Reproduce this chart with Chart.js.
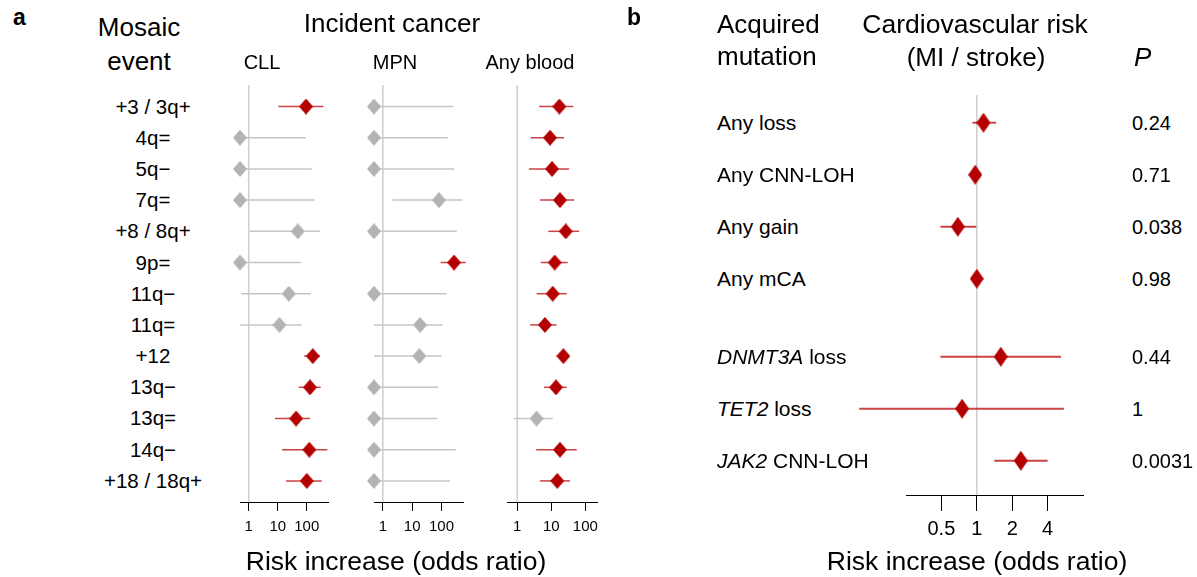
<!DOCTYPE html>
<html><head><meta charset="utf-8">
<script src="https://cdn.jsdelivr.net/npm/chart.js@4.4.1/dist/chart.umd.min.js"></script>
<style>
html,body{margin:0;padding:0;background:#fff;}
#root{position:relative;width:1197px;height:577px;overflow:hidden;background:#fff;font-family:"Liberation Sans",Arial,Helvetica,sans-serif;color:#000;}
#root canvas{position:absolute;top:0;}
.t{position:absolute;white-space:nowrap;line-height:1;}
</style></head><body><div id="root"></div>
<script>
// ---------- DATA ----------
const eventLabels = ['+3 / 3q+','4q=','5q\u2212','7q=','+8 / 8q+','9p=','11q\u2212','11q=','+12','13q\u2212','13q=','14q\u2212','+18 / 18q+'];

const cllEst = [94, 0.5, 0.5, 0.5, 49, 0.5, 24, 11.4, 161, 129, 43, 123, 100];
const cllLo  = [10.5, 0.5, 0.5, 0.5, 1.1, 0.5, 0.54, 0.5, 81, 53, 8, 14, 19.3];
const cllHi  = [372, 94, 148, 188, 287, 63, 140, 67, 287, 303, 129, 510, 330];
const cllSig = [1,0,0,0,0,0,0,0,1,1,1,1,1];

const mpnEst = [0.5, 0.5, 0.5, 82, 0.5, 267, 0.5, 18.6, 17.5, 0.5, 0.5, 0.5, 0.5];
const mpnLo  = [0.5, 0.5, 0.5, 2.1, 0.5, 94, 0.5, 0.5, 0.5, 0.5, 0.5, 0.5, 0.5];
const mpnHi  = [253, 163, 272, 512, 330, 668, 150, 107, 102, 78, 72, 305, 195];
const mpnSig = [0,0,0,0,0,1,0,0,0,0,0,0,0];

const bloodEst = [17.2, 9.2, 10.5, 18, 26.5, 12.6, 11, 6.5, 22.6, 13.7, 3.7, 18, 15];
const bloodLo  = [4.4, 2.5, 2.2, 4.7, 8.2, 4.9, 3.7, 2.4, 20, 6.1, 0.8, 3.6, 4.7];
const bloodHi  = [44, 23.6, 33, 47, 65, 30.4, 28.4, 14.4, 26, 28.4, 11, 56, 35.5];
const bloodSig = [1,1,1,1,1,1,1,1,1,1,0,1,1];

const mutGene  = ['', '', '', '', 'DNMT3A', 'TET2', 'JAK2'];
const mutText  = ['Any loss', 'Any CNN-LOH', 'Any gain', 'Any mCA', ' loss', ' loss', ' CNN-LOH'];
const mutGroup = [0,0,0,0,1,1,1];
const mutEst = [1.14, 0.97, 0.69, 1.0, 1.6, 0.75, 2.37];
const mutLo  = [0.92, 0.9, 0.49, 0.95, 0.49, 0.10, 1.41];
const mutHi  = [1.46, 1.05, 0.99, 1.05, 5.2, 5.5, 4.0];
const mutP   = ['0.24', '0.71', '0.038', '0.98', '0.44', '1', '0.0031'];

const ticksA = [1, 10, 100];
const ticksB = [0.5, 1, 2, 4];

// ---------- STYLE ----------
const FONT = '"Liberation Sans", Arial, Helvetica, sans-serif';
const RED = '#b40000', GRAY = '#b3b3b3';
const RED_LINE = 'rgba(190,20,20,0.8)', GRAY_LINE = '#c6c6c6', REF = '#d0d0d0';
const H = 577;
const root = document.getElementById('root');

function diamond(w, h, color) {
  const c = document.createElement('canvas');
  c.width = w; c.height = h;
  const g = c.getContext('2d');
  g.fillStyle = color;
  g.beginPath();
  g.moveTo(w / 2, 0); g.lineTo(w, h / 2); g.lineTo(w / 2, h); g.lineTo(0, h / 2);
  g.closePath(); g.fill();
  return c;
}
const dRedA = diamond(14, 16, RED), dGrayA = diamond(14, 16, GRAY);
const dRedB = diamond(14, 20, RED);

const refLine = {
  id: 'refLine',
  beforeDatasetsDraw(chart, args, opts) {
    const x = chart.scales.x.getPixelForValue(1);
    const a = chart.chartArea, c = chart.ctx;
    c.save();
    c.strokeStyle = opts.color; c.lineWidth = opts.width;
    c.beginPath(); c.moveTo(x, a.top); c.lineTo(x, a.bottom); c.stroke();
    c.restore();
  }
};

function makePanel(p) {
  const cv = document.createElement('canvas');
  const W = p.right - p.left + p.padL + p.padR;
  cv.width = W; cv.height = H;
  cv.style.left = (p.left - p.padL) + 'px';
  cv.style.width = W + 'px'; cv.style.height = H + 'px';
  root.appendChild(cv);
  const datasets = [];
  datasets.push({
    type: 'scatter',
    data: p.est.map((v, i) => ({ x: v, y: p.ypos[i] })),
    pointStyle: c => (c.dataIndex !== undefined && p.sig[c.dataIndex]) ? p.redD : p.grayD,
    pointRadius: 8, pointHoverRadius: 8, order: 0, clip: false
  });
  p.est.forEach((v, i) => {
    datasets.push({
      type: 'line',
      data: [{ x: p.lo[i], y: p.ypos[i] }, { x: p.hi[i], y: p.ypos[i] }],
      borderColor: p.sig[i] ? RED_LINE : GRAY_LINE,
      borderWidth: p.lineW, pointRadius: 0, pointHoverRadius: 0,
      fill: false, order: 1, clip: false, tension: 0
    });
  });
  return new Chart(cv, {
    type: 'scatter',
    data: { datasets },
    options: {
      responsive: false, animation: false, devicePixelRatio: 1, events: [],
      layout: { padding: { left: p.padL, right: p.padR, top: p.top, bottom: 0 } },
      plugins: { legend: { display: false }, tooltip: { enabled: false },
                 refLine: { color: REF, width: 1.6 } },
      scales: {
        x: {
          type: 'logarithmic', min: p.xmin, max: p.xmax, bounds: 'data', position: 'bottom',
          afterFit: s => { s.height = H - p.bottom; },
          afterBuildTicks: s => { s.ticks = p.ticks.map(v => ({ value: v })); },
          ticks: { autoSkip: false, maxRotation: 0, minRotation: 0, padding: p.tickPad,
                   color: '#000', font: { family: FONT, size: p.tickSize },
                   callback: v => String(v) },
          grid: { display: true, drawOnChartArea: false, drawTicks: true,
                  tickLength: p.tickLen, color: '#000', lineWidth: 1 },
          border: { display: true, color: '#000', width: 1 }
        },
        y: { type: 'linear', min: p.ymin, max: p.ymax, reverse: true, display: false, bounds: 'data' }
      }
    },
    plugins: [refLine]
  });
}

const rowsA = eventLabels.map((_, i) => i);
const commonA = { top: 85, bottom: 502, ymin: -0.69, ymax: 12.676, ypos: rowsA,
  ticks: ticksA, tickSize: 15, tickLen: 9, tickPad: 7, lineW: 1.5,
  redD: dRedA, grayD: dGrayA, padL: 30, padR: 30, xmin: 0.5 };

const cll = makePanel(Object.assign({}, commonA, { left: 240, right: 328, xmax: 540,
  est: cllEst, lo: cllLo, hi: cllHi, sig: cllSig }));
makePanel(Object.assign({}, commonA, { left: 374, right: 463, xmax: 540,
  est: mpnEst, lo: mpnLo, hi: mpnHi, sig: mpnSig }));
makePanel(Object.assign({}, commonA, { left: 507, right: 597, xmax: 220,
  est: bloodEst, lo: bloodLo, hi: bloodHi, sig: bloodSig }));

const rowsB = mutText.map((_, i) => i + mutGroup[i] * 0.5);
const cvB = makePanel({ top: 95, bottom: 495, ymin: -0.533, ymax: 7.159, ypos: rowsB,
  ticks: ticksB, tickSize: 20, tickLen: 16, tickPad: 6, lineW: 2,
  redD: dRedB, grayD: dRedB, padL: 60, padR: 30, left: 906, right: 1083,
  xmin: 0.25, xmax: 8, est: mutEst, lo: mutLo, hi: mutHi, sig: mutEst.map(() => 1) });

// ---------- TEXT ----------
function txt(content, x, y, size, align, extra, html) {
  const d = document.createElement('div');
  d.className = 't';
  if (html) d.innerHTML = content; else d.textContent = content;
  d.style.fontSize = size + 'px';
  d.style.top = (y - 0.4885 * size) + 'px';
  d.style.left = x + 'px';
  if (align === 'c') d.style.transform = 'translateX(-50%)';
  if (extra) Object.assign(d.style, extra);
  root.appendChild(d);
  return d;
}
txt('a', 13, 17, 23, 'l', { fontWeight: 'bold' });
txt('Mosaic', 139, 27, 26, 'c');
txt('event', 139, 61, 26, 'c');
txt('Incident cancer', 392, 23, 26, 'c');
txt('CLL', 262, 62, 20, 'c');
txt('MPN', 395, 62, 20, 'c');
txt('Any blood', 530, 62, 20, 'c');
txt('Risk increase (odds ratio)', 396, 561, 26.5, 'c');

txt('b', 627, 17, 23, 'l', { fontWeight: 'bold' });
txt('Acquired', 717, 24, 26, 'l');
txt('mutation', 717, 56, 26, 'l');
txt('Cardiovascular risk', 975, 24, 26.5, 'c');
txt('(MI / stroke)', 976, 57, 26, 'c');
txt('P', 1134, 57, 26, 'l', { fontStyle: 'italic' });
txt('Risk increase (odds ratio)', 977, 561, 26.5, 'c');

eventLabels.forEach((lab, i) => {
  txt(lab, 153, cll.scales.y.getPixelForValue(rowsA[i]), 20.5, 'c');
});
mutText.forEach((t, i) => {
  const y = cvB.scales.y.getPixelForValue(rowsB[i]);
  const g = mutGene[i];
  const html = (g ? '<i>' + g + '</i>' : '') + t.replace(/ /g, ' ');
  txt(html, 717, y, 21, 'l', null, true);
  txt(mutP[i], 1132, y, 20, 'l');
});
</script></body></html>
